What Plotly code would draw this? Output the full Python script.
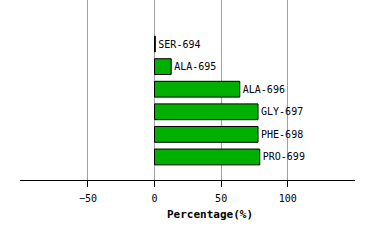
import plotly.graph_objects as go

residues = ["SER-694", "ALA-695", "ALA-696", "GLY-697", "PHE-698", "PRO-699"]
percentages = [0.6, 12.5, 64, 77.7, 77.7, 79]
tick_values = [-50, 0, 50, 100]
tick_labels = ["\u221250", "0", "50", "100"]

ypos = list(range(len(residues)))

fig = go.Figure()
fig.add_trace(go.Bar(
    x=percentages, y=ypos, orientation="h",
    marker=dict(color="#00b000", line=dict(color="black", width=1)),
    width=0.7,
    text=residues, textposition="outside", cliponaxis=False,
    textfont=dict(family="DejaVu Sans Mono", size=10, color="black"),
    hoverinfo="skip",
))
fig.update_layout(
    width=374, height=240,
    margin=dict(l=20, r=19, t=0, b=60),
    paper_bgcolor="white", plot_bgcolor="white",
    showlegend=False,
    xaxis=dict(
        range=[-101, 150.5], tickvals=tick_values, ticktext=tick_labels,
        showgrid=True, gridcolor="#a0a0a0", gridwidth=1,
        zeroline=True, zerolinecolor="#a0a0a0", zerolinewidth=1,
        showline=True, linecolor="black", linewidth=1,
        ticks="outside", ticklen=6, tickcolor="black",
        ticklabelstandoff=3,
        tickfont=dict(family="DejaVu Sans Mono", size=10, color="black"),
    ),
    yaxis=dict(range=[6.02, -1.95], showticklabels=False, showgrid=False,
               zeroline=False, showline=False),
    annotations=[dict(
        text="<b>Percentage(%)</b>", showarrow=False,
        xref="paper", yref="paper", yanchor="middle",
        x=(255 - 20) / (374 - 39), y=-(214 - 180) / 180,
        font=dict(family="DejaVu Sans Mono", size=11, color="black"),
    )],
)
fig.write_html("out.html")
